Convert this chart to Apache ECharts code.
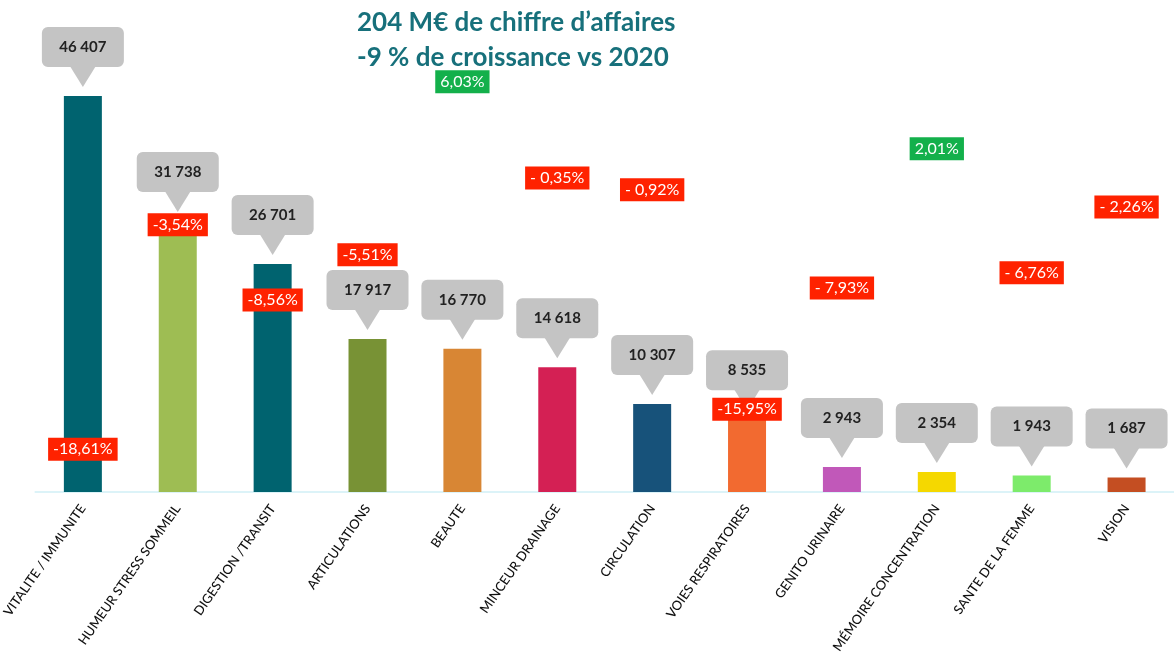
<!DOCTYPE html>
<html>
<head>
<meta charset="utf-8">
<script src="https://cdn.jsdelivr.net/npm/echarts@6/dist/echarts.min.js"></script>
<style>
  html, body { margin: 0; padding: 0; background: #fff; }
  #chart { width: 1174px; height: 662px; }
</style>
</head>
<body>
<div id="chart"></div>
<script>
const categories = [
  'VITALITE / IMMUNITE', 'HUMEUR STRESS SOMMEIL', 'DIGESTION /TRANSIT', 'ARTICULATIONS',
  'BEAUTE', 'MINCEUR DRAINAGE', 'CIRCULATION', 'VOIES RESPIRATOIRES',
  'GENITO URINAIRE', 'MÉMOIRE CONCENTRATION', 'SANTE DE LA FEMME', 'VISION'
];
const sales = [46407, 31738, 26701, 17917, 16770, 14618, 10307, 8535, 2943, 2354, 1943, 1687];
const salesLabels = ['46 407', '31 738', '26 701', '17 917', '16 770', '14 618', '10 307', '8 535', '2 943', '2 354', '1 943', '1 687'];
const growth = ['-18,61%', '-3,54%', '-8,56%', '-5,51%', '6,03%', '- 0,35%', '- 0,92%', '-15,95%', '- 7,93%', '2,01%', '- 6,76%', '- 2,26%'];
const growthPositive = [false, false, false, false, true, false, false, false, false, true, false, false];

// where each growth badge sits, in sales units (layout only)
const badgeLevel = [5000, 31300, 22500, 27800, 48050, 36800, 35400, 9700, 23900, 40200, 25700, 33400];

const barColors = ['#00636f', '#9ebd53', '#00636f', '#789235', '#d88634', '#d42054',
  '#17527a', '#f26a30', '#c158b9', '#f5d800', '#7deb6b', '#c44e22'];

const chart = echarts.init(document.getElementById('chart'));

const option = {
  animation: false,
  title: {
    text: '204 M€ de chiffre d’affaires\n-9 % de croissance vs 2020',
    left: 357,
    top: 5,
    padding: 0,
    textStyle: { color: '#17707b', fontSize: 26, fontWeight: 'bold', fontFamily: 'Lato', lineHeight: 35 }
  },
  grid: { left: 33, width: 1145, top: 14, bottom: 170 },
  xAxis: {
    type: 'category',
    data: categories,
    axisLine: { lineStyle: { color: '#dcf3f8', width: 2 } },
    axisTick: { show: false },
    axisLabel: {
      rotate: 55, interval: 0, margin: 14,
      color: '#111', fontSize: 13, fontFamily: 'Lato', fontWeight: 500
    }
  },
  yAxis: { type: 'value', min: 0, max: 56000, show: false, splitLine: { show: false } },
  series: [
    {
      type: 'bar',
      barWidth: 38,
      data: sales.map((v, i) => ({ value: v, itemStyle: { color: barColors[i] } }))
    },
    {
      type: 'custom',
      clip: false,
      z: 3,
      data: sales.map((v, i) => [i, v]),
      renderItem: (params, api) => {
        const pt = api.coord([api.value(0), api.value(1)]);
        const tipY = pt[1] - 9;
        const baseY = tipY - 20;
        const boxH = 40, boxW = 82;
        return {
          type: 'group',
          children: [
            { type: 'rect', shape: { x: pt[0] - boxW / 2, y: baseY - boxH, width: boxW, height: boxH, r: 6 }, style: { fill: '#c4c4c4' } },
            { type: 'polygon', shape: { points: [[pt[0] - 13, baseY - 1], [pt[0] + 13, baseY - 1], [pt[0], tipY]] }, style: { fill: '#c4c4c4' } },
            {
              type: 'text', x: pt[0], y: baseY - boxH / 2,
              style: { text: salesLabels[params.dataIndex], fill: '#222', font: 'bold 15px Lato', align: 'center', verticalAlign: 'middle' }
            }
          ]
        };
      }
    },
    {
      type: 'custom',
      clip: false,
      z: 5,
      data: badgeLevel.map((v, i) => [i, v]),
      renderItem: (params, api) => {
        const pt = api.coord([api.value(0), api.value(1)]);
        const i = params.dataIndex;
        return {
          type: 'text', x: pt[0], y: pt[1],
          style: {
            text: growth[i], fill: '#fff', font: '16px Lato',
            align: 'center', verticalAlign: 'middle',
            backgroundColor: growthPositive[i] ? '#13b04b' : '#ff2200',
            padding: [4, 5, 3, 5]
          }
        };
      }
    }
  ]
};

chart.setOption(option);
</script>
</body>
</html>
